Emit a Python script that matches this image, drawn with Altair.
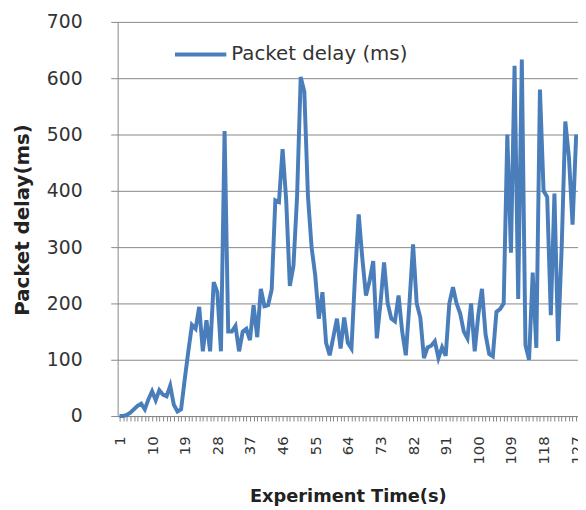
import altair as alt
import pandas as pd

# Experiment time (s) categories
times = list(range(1, 128))

# Packet delay (ms)
delay = [
    0, 0, 2, 6, 12, 18, 22, 12, 30, 44,
    28, 46, 38, 35, 54, 20, 8, 12, 65, 115,
    162, 155, 194, 115, 170, 115, 238, 220, 115, 506,
    150, 150, 160, 115, 150, 155, 135, 197, 140, 226,
    195, 197, 225, 383, 380, 474, 383, 231, 267, 390,
    602, 576, 390, 300, 250, 173, 220, 130, 108, 140,
    173, 120, 175, 130, 120, 250, 358, 280, 214, 240,
    275, 138, 200, 273, 200, 173, 168, 214, 150, 108,
    200, 305, 200, 175, 103, 122, 125, 133, 103, 122,
    107, 200, 229, 200, 182, 150, 138, 200, 115, 180,
    226, 145, 110, 106, 185, 190, 200, 500, 290, 622,
    208, 633, 126, 100, 255, 121, 580, 400, 389, 179,
    395, 133, 300, 523, 460, 340, 500,
]

series_name = "Packet delay (ms)"
y_ticks = [0, 100, 200, 300, 400, 500, 600, 700]

df = pd.DataFrame({"t": times, "delay": delay, "series": series_name})

GRAY = "#868686"
BLUE = "#4A7EBB"

chart = (
    alt.Chart(df)
    .mark_line(strokeWidth=4, interpolate="linear")
    .encode(
        x=alt.X(
            "t:O",
            sort="ascending",
            axis=alt.Axis(
                title="Experiment Time(s)",
                labelAngle=-90,
                labelExpr="(datum.value - 1) % 9 === 0 ? datum.label : ''",
                labelOverlap=False,
                labelFont="DejaVu Sans",
                labelFontSize=15,
                labelColor="#333333",
                labelPadding=15,
                tickSize=5,
                tickColor=GRAY,
                domainColor=GRAY,
                titleFont="DejaVu Sans",
                titleFontWeight="bold",
                titleFontSize=18,
                titleColor="#222222",
                titleBaseline="middle",
                titleX=233,
                titleY=81,
            ),
        ),
        y=alt.Y(
            "delay:Q",
            scale=alt.Scale(domain=[0, 700], nice=False),
            axis=alt.Axis(
                title="Packet delay(ms)",
                values=y_ticks,
                grid=True,
                gridColor=GRAY,
                gridWidth=1,
                domainColor=GRAY,
                tickColor=GRAY,
                tickSize=7,
                labelPadding=29,
                labelFont="DejaVu Sans",
                labelFontSize=19,
                labelColor="#333333",
                titleFont="DejaVu Sans",
                titleFontWeight="bold",
                titleFontSize=20,
                titleColor="#222222",
                titleBaseline="middle",
                titleAlign="center",
                titleAngle=-90,
                titleX=-96,
                titleY=200,
            ),
        ),
        color=alt.Color(
            "series:N",
            scale=alt.Scale(range=[BLUE]),
            legend=alt.Legend(
                title=None,
                orient="none",
                legendX=56,
                legendY=5,
                symbolType="stroke",
                symbolSize=2704,
                symbolStrokeWidth=4,
                labelFont="DejaVu Sans",
                labelFontSize=20,
                labelColor="#333333",
                labelOffset=3,
                labelLimit=0,
                padding=0,
            ),
        ),
    )
    .properties(
        width=466,
        height=399,
        autosize=alt.AutoSizeParams(type="none"),
        padding={"left": 111, "top": 11, "right": 0, "bottom": 90},
        background="white",
    )
    .configure_view(stroke=None)
)

chart.save("out.html", embed_options={"renderer": "svg", "actions": False})
